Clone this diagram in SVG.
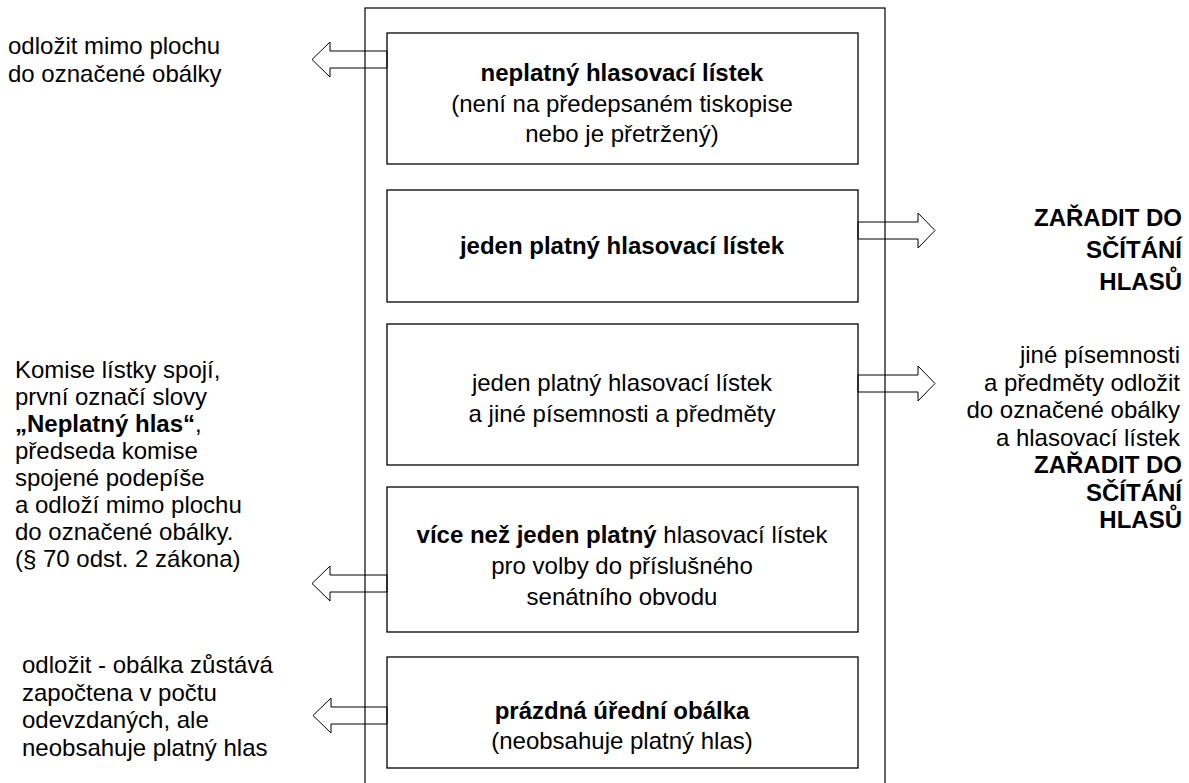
<svg xmlns="http://www.w3.org/2000/svg" width="1189" height="783" viewBox="0 0 1189 783">
<style>
.box{fill:#fff;stroke:#000;stroke-width:1.3}
.frame{fill:none;stroke:#000;stroke-width:1.2}
.arr{fill:none;stroke:#000;stroke-width:1}
text{font-family:"Liberation Sans",Arial,sans-serif;font-size:24px;fill:#000}
.c{text-anchor:middle}
.r{text-anchor:end}
.b{font-weight:bold}
</style>
<rect width="1189" height="783" fill="#fff"/>
<g id="frame"><rect class="frame" x="365" y="8" width="520" height="800"/></g>
<g id="box1"><rect class="box" x="387" y="33" width="471" height="131"/>
<text class="c" x="622" y="81"><tspan class="b">neplatný hlasovací lístek</tspan><tspan x="622" dy="30.5">(není na předepsaném tiskopise</tspan><tspan x="622" dy="30.5">nebo je přetržený)</tspan></text></g>
<g id="box2"><rect class="box" x="387" y="190" width="471" height="112"/>
<text class="c b" x="622" y="254">jeden platný hlasovací lístek</text></g>
<g id="box3"><rect class="box" x="387" y="324" width="471" height="141"/>
<text class="c" x="622" y="391">jeden platný hlasovací lístek<tspan x="622" dy="31">a jiné písemnosti a předměty</tspan></text></g>
<g id="box4"><rect class="box" x="387" y="487" width="471" height="145"/>
<text class="c" x="622" y="543"><tspan class="b">více než jeden platný</tspan> hlasovací lístek<tspan x="622" dy="31">pro volby do příslušného</tspan><tspan x="622" dy="31">senátního obvodu</tspan></text></g>
<g id="box5"><rect class="box" x="387" y="657" width="471" height="111"/>
<text class="c" x="622" y="719"><tspan class="b">prázdná úřední obálka</tspan><tspan x="622" dy="30">(neobsahuje platný hlas)</tspan></text></g>
<g id="connectors">
<polygon class="arr" points="387,51 330,51 330,42 312,59.5 330,77 330,68 387,68"/>
<polygon class="arr" points="858,222 918,222 918,213 935,230.5 918,248 918,239 858,239"/>
<polygon class="arr" points="858,375 918,375 918,366 935,383.5 918,401 918,392 858,392"/>
<polygon class="arr" points="387,575 330,575 330,566 312,583.5 330,601 330,592 387,592"/>
<polygon class="arr" points="387,707 331,707 331,698 313,715.5 331,733 331,724 387,724"/>
</g>
<g id="label-left1"><text x="8" y="54">odložit mimo plochu<tspan x="8" dy="28">do označené obálky</tspan></text></g>
<g id="label-left2"><text x="15" y="378">Komise lístky spojí,<tspan x="15" dy="27">první označí slovy</tspan><tspan x="15" dy="27"><tspan class="b">„Neplatný hlas“</tspan>,</tspan><tspan x="15" dy="27">předseda komise</tspan><tspan x="15" dy="27">spojené podepíše</tspan><tspan x="15" dy="27">a odloží mimo plochu</tspan><tspan x="15" dy="27">do označené obálky.</tspan><tspan x="15" dy="27">(§ 70 odst. 2 zákona)</tspan></text></g>
<g id="label-left3"><text x="22" y="673">odložit - obálka zůstává<tspan x="22" dy="27.5">započtena v počtu</tspan><tspan x="22" dy="27.5">odevzdaných, ale</tspan><tspan x="22" dy="27.5">neobsahuje platný hlas</tspan></text></g>
<g id="label-right1"><text class="r b" x="1182" y="226">ZAŘADIT DO<tspan x="1182" dy="32">SČÍTÁNÍ</tspan><tspan x="1182" dy="32">HLASŮ</tspan></text></g>
<g id="label-right2"><text class="r" x="1180" y="363">jiné písemnosti<tspan x="1180" dy="27.5">a předměty odložit</tspan><tspan x="1180" dy="27.5">do označené obálky</tspan><tspan x="1180" dy="27.5">a hlasovací lístek</tspan><tspan class="b" x="1182" dy="27.5">ZAŘADIT DO</tspan><tspan class="b" x="1182" dy="27.5">SČÍTÁNÍ</tspan><tspan class="b" x="1182" dy="27.5">HLASŮ</tspan></text></g>
</svg>
